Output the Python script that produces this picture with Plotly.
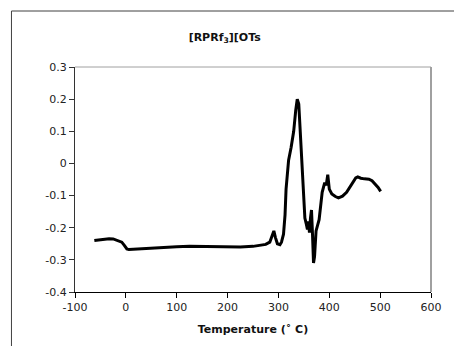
import plotly.graph_objects as go

# Data
temperature = [-62, -50, -40, -33, -25, -15, -8, -3, 2, 6, 15, 30, 50, 75, 100, 125, 150, 175,
               200, 225, 250, 265, 275, 283, 288, 291, 294, 298, 303, 306, 310, 313, 315, 317,
               320, 325, 330, 334, 337, 340, 343, 346, 349, 352, 355, 357, 359, 361, 363, 365,
               367, 369, 371, 374, 380, 386, 391, 394, 397, 400, 405, 412, 418, 426, 434, 441,
               447, 452, 456, 462, 469, 478, 484, 490, 496, 501]
signal = [-0.240, -0.237, -0.234, -0.234, -0.235, -0.240, -0.245, -0.255, -0.266, -0.268,
          -0.267, -0.265, -0.263, -0.261, -0.259, -0.258, -0.259, -0.260, -0.260, -0.260,
          -0.258, -0.255, -0.252, -0.245, -0.225, -0.210, -0.230, -0.250, -0.253, -0.245,
          -0.220, -0.160, -0.080, -0.030, 0.010, 0.050, 0.100, 0.165, 0.200, 0.185, 0.100,
          -0.010, -0.110, -0.170, -0.190, -0.205, -0.180, -0.215, -0.170, -0.145, -0.220,
          -0.310, -0.290, -0.210, -0.175, -0.090, -0.060, -0.068, -0.035, -0.080, -0.095,
          -0.103, -0.107, -0.102, -0.090, -0.072, -0.055, -0.045, -0.042, -0.046, -0.048,
          -0.049, -0.054, -0.063, -0.075, -0.087]

x_ticks = [-100, 0, 100, 200, 300, 400, 500, 600]
x_tick_labels = ["-100", "0", "100", "200", "300", "400", "500", "600"]
y_ticks = [0.3, 0.2, 0.1, 0, -0.1, -0.2, -0.3, -0.4]
y_tick_labels = ["0.3", "0.2", "0.1", "0", "-0.1", "-0.2", "-0.3", "-0.4"]

title_text = "[RPRf<sub>3</sub>][OTs"
x_title = "Temperature (˚ C)"

FONT = "DejaVu Sans"

fig = go.Figure()
fig.add_trace(go.Scatter(x=temperature, y=signal, mode="lines",
                         line=dict(color="black", width=3), showlegend=False))

L, R, T, B = 75, 12, 67, 54
W, H = 454, 346
pw, ph = W - L - R, H - T - B

def px_to_paper_x(px):
    return (px - L) / pw

def py_to_paper_y(py):
    return (H - B - py) / ph

fig.update_layout(
    width=W, height=H,
    margin=dict(l=L, r=R, t=T, b=B, pad=0),
    paper_bgcolor="white", plot_bgcolor="white",
    font=dict(family=FONT, size=11, color="#222222"),
    title=dict(text=title_text, x=0.495, xref="container", xanchor="center",
               y=1 - 37 / H, yref="container", yanchor="middle",
               font=dict(family=FONT, size=11, color="#111111", weight="bold")),
    xaxis=dict(range=[-100, 600], tickvals=x_ticks, ticktext=x_tick_labels,
               showgrid=False, zeroline=False, showline=True, linecolor="black",
               linewidth=1, ticks="outside", ticklen=5, tickcolor="black",
               title=dict(text=x_title, standoff=12,
                          font=dict(family=FONT, size=11, color="#111111", weight="bold"))),
    yaxis=dict(range=[-0.4, 0.3], tickvals=y_ticks, ticktext=y_tick_labels,
               showgrid=False, zeroline=False, showline=True, linecolor="#333333",
               linewidth=1, ticks="outside", ticklen=5, tickcolor="#333333"),
)

# plot-area border (top and right, gray)
fig.add_shape(type="line", xref="paper", yref="paper", x0=0, x1=1, y0=1, y1=1,
              line=dict(color="#a0a0a0", width=1))
fig.add_shape(type="line", xref="paper", yref="paper", x0=1, x1=1, y0=0, y1=1,
              line=dict(color="#a0a0a0", width=2))
# chart-area border (extends beyond the captured region)
fig.add_shape(type="rect", xref="paper", yref="paper",
              x0=px_to_paper_x(9.5), x1=px_to_paper_x(470),
              y0=py_to_paper_y(360), y1=py_to_paper_y(11),
              line=dict(color="#404040", width=1))

fig.write_html("out.html")
